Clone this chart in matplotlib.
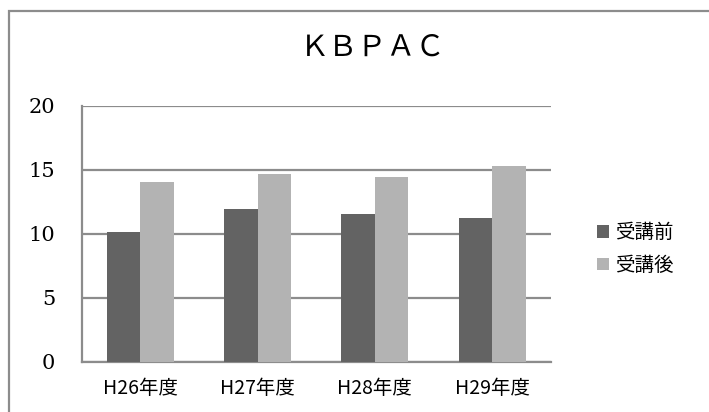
import matplotlib.pyplot as plt
import numpy as np
from matplotlib.patches import Rectangle

plt.rcParams['font.family'] = ['Noto Sans CJK JP', 'DejaVu Sans']

# Scores per fiscal year, before and after the course
years = ["H26年度", "H27年度", "H28年度", "H29年度"]
before = [10.1, 11.9, 11.5, 11.2]
after = [14.0, 14.7, 14.4, 15.3]
series_names = ["受講前", "受講後"]
yticks = [0, 5, 10, 15, 20]

dark = "#636363"
light = "#b3b3b3"
grid_col = "#8c8c8c"

fig = plt.figure(figsize=(7.09, 4.12), dpi=100)
ax = fig.add_axes([0.1152, 0.1221, 0.6615, 0.6214])

x = np.arange(len(years))
w = 0.286
ax.bar(x - w / 2, before, w, color=dark, label=series_names[0], zorder=3)
ax.bar(x + w / 2, after, w, color=light, label=series_names[1], zorder=3)

ax.set_xlim(-0.5, len(years) - 0.5)
ax.set_ylim(0, 20)
ax.set_yticks(yticks)
ax.set_yticklabels([str(v) for v in yticks], family='DejaVu Serif', fontsize=15)
ax.set_xticks(x)
ax.set_xticklabels(years, fontsize=14)
ax.tick_params(axis='both', length=0)
ax.tick_params(axis='y', pad=19)
ax.tick_params(axis='x', pad=12)

ax.yaxis.grid(True, color=grid_col, linewidth=1.6, zorder=0)
for side in ("top", "right"):
    ax.spines[side].set_visible(False)
for side in ("left", "bottom"):
    ax.spines[side].set_color(grid_col)
    ax.spines[side].set_linewidth(1.6)

# Right-hand legend with small square keys
leg = fig.legend(loc="center left", bbox_to_anchor=(0.818, 0.395),
                 frameon=False, fontsize=14, handlelength=0.6,
                 handleheight=0.6, handletextpad=0.3, labelspacing=0.6)

fig.text(0.525, 0.885, "ＫＢＰＡＣ", ha="center", va="center", fontsize=21)

# Chart area border (only top and left edges fall inside the image)
fig.add_artist(Rectangle((8.5 / 709, -0.1), 1.2, 1.1 - 11.5 / 412,
                         transform=fig.transFigure, fill=False,
                         edgecolor="#8c8c8c", linewidth=1.6))

fig.savefig("out.png", dpi=100)
